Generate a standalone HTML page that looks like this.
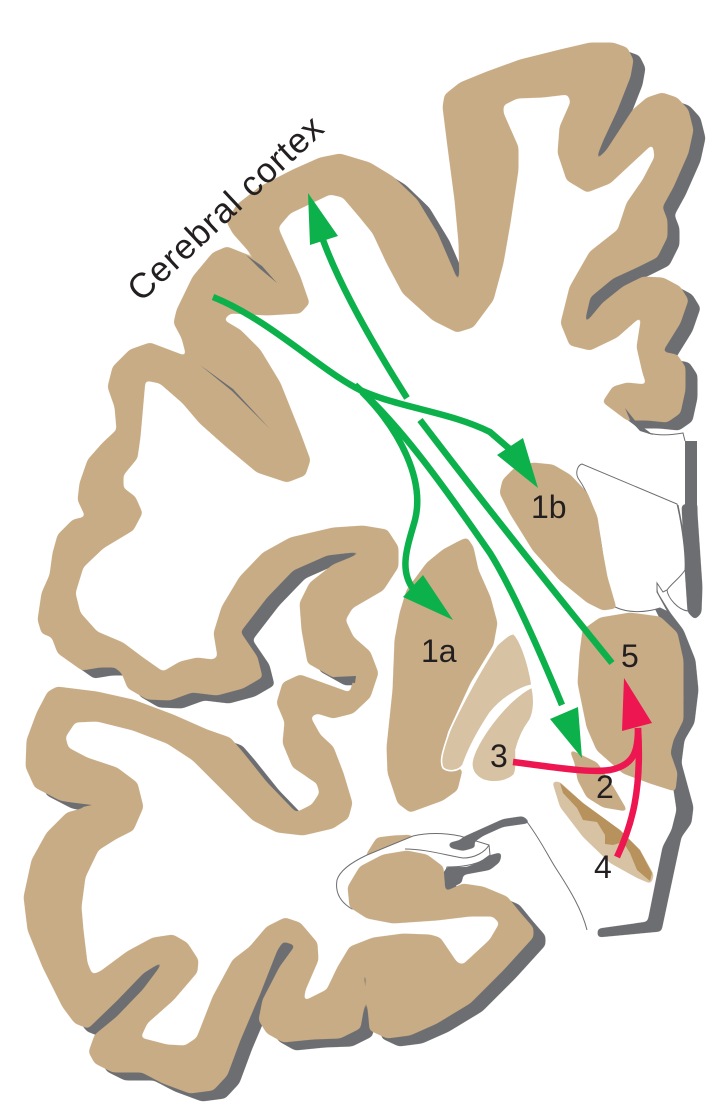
<!DOCTYPE html>
<html><head><meta charset="utf-8"><style>
html,body{margin:0;padding:0;background:#fff}
svg{display:block}
text{font-family:"Liberation Sans",sans-serif;fill:#231f20}
</style></head><body>
<svg width="723" height="1116" viewBox="0 0 723 1116" xmlns="http://www.w3.org/2000/svg">
<defs>
<filter id="sm" filterUnits="userSpaceOnUse" x="0" y="0" width="723" height="1116" color-interpolation-filters="sRGB">
<feGaussianBlur stdDeviation="2.2"/>
<feComponentTransfer><feFuncA type="linear" slope="9" intercept="-4"/></feComponentTransfer>
</filter>
<polygon id="rib" stroke-linejoin="round" points="603,402 627,420 647,420 667,422 680,413 685,390 685,367 677,355 662,352 680,323 688,300 680,287 663,278 643,277 623,287 603,303 583,327 590,297 613,278 637,267 657,257 667,237 667,220 662,207 673,187 688,153 693,130 688,110 677,98 662,93 647,98 633,110 620,130 607,150 593,165 603,140 617,110 630,77 633,60 627,48 613,43 590,43 560,50 520,60 487,72 460,83 445,95 443,107 448,147 455,200 459,243 460,288 453,270 437,233 417,200 393,177 370,163 340,154 320,158 293,170 260,187 237,205 227,222 233,233 257,260 277,282 247,255 227,247 213,253 193,277 177,310 174,323 182,338 187,357 233,390 269,428 233,390 187,357 150,343 130,350 113,367 108,387 115,407 117,430 103,443 88,460 80,483 78,500 86,517 73,520 58,535 53,553 50,575 42,593 38,620 42,633 52,637 58,653 82,670 100,667 115,667 122,673 128,688 147,699 170,700 192,692 217,695 243,688 262,677 257,657 240,632 267,597 293,570 327,555 370,550 333,565 310,583 300,603 302,630 308,663 333,677 355,676 350,693 300,675 283,683 277,703 285,722 283,743 293,767 317,783 320,793 312,805 298,812 295,812 267,783 243,753 230,738 207,730 173,715 133,700 97,692 57,687 48,692 37,713 27,740 26,767 35,787 60,800 92,806 67,813 47,833 32,860 24,897 28,930 43,967 63,1007 75,1023 88,1028 117,1000 143,973 167,958 143,990 117,1017 95,1035 89,1052 95,1063 113,1072 142,1072 163,1083 190,1093 213,1090 227,1075 240,1040 260,993 277,950 283,941 296,945 280,967 263,1000 259,1020 267,1033 283,1042 313,1039 340,1038 360,1028 365,1000 362,969 367,977 368,1007 370,1030 387,1038 410,1035 437,1023 470,1003 503,970 533,937 533,928 520,913 507,897 483,887 463,884 445,892 443,867 427,855 407,851 383,855 360,867 348,887 350,907 367,918 393,923 437,920 470,916 493,916 500,923 490,940 463,965 457,963 440,938 430,935 403,934 373,938 350,947 338,967 327,990 303,1002 305,990 318,960 317,943 300,923 285,918 267,927 250,947 233,960 213,997 197,1038 185,1046 167,1045 140,1038 147,1023 173,1000 197,972 198,960 187,943 173,935 153,938 127,952 100,972 92,975 87,963 83,930 81,907 85,877 98,850 117,838 133,830 143,807 137,783 117,768 87,758 68,748 65,737 75,722 97,721 133,730 167,743 193,760 220,787 253,820 277,832 303,835 333,828 348,818 352,803 343,773 333,747 320,735 310,717 317,713 333,718 353,713 370,697 378,673 370,652 353,637 345,620 352,608 383,590 398,567 398,547 387,530 363,526 333,528 290,538 263,553 240,577 222,607 214,633 218,657 213,660 197,658 180,662 163,672 143,658 123,643 97,632 80,613 75,593 83,567 103,548 133,530 142,513 135,497 123,488 123,475 137,458 140,437 145,380 160,383 183,403 200,423 227,447 257,472 287,482 305,475 310,460 300,433 280,383 260,350 240,330 223,320 230,313 267,315 300,313 309,303 300,277 280,233 278,227 290,213 330,194 343,197 360,217 373,233 387,263 403,293 433,320 457,332 473,327 493,300 503,263 510,223 518,170 518,147 503,113 503,105 517,98 543,97 568,94 571,102 560,127 558,153 567,180 587,192 610,183 653,143 655,157 643,180 627,203 618,230 590,252 570,287 561,323 570,345 590,350 617,337 642,315 637,347 643,373 647,385 627,383 613,387"/>
</defs>

<!-- shadow -->
<g filter="url(#sm)"><use href="#rib" fill="#6d6e71" stroke="#6d6e71" transform="translate(12,8)"/></g>
<!-- white matter cover -->
<g filter="url(#sm)"><polygon fill="#fff" points="367,918 393,923 437,920 470,916 493,916 500,923 490,940 463,965 457,963 440,938 430,935 403,934 373,938 350,947 338,967 327,990 303,1002 305,990 318,960 317,943 300,923 285,918 267,927 250,947 233,960 213,997 197,1038 185,1046 167,1045 140,1038 147,1023 173,1000 197,972 198,960 187,943 173,935 153,938 127,952 100,972 92,975 87,963 83,930 81,907 85,877 98,850 117,838 133,830 143,807 137,783 117,768 87,758 68,748 65,737 75,722 97,721 133,730 167,743 193,760 220,787 253,820 277,832 303,835 333,828 348,818 352,803 343,773 333,747 320,735 310,717 317,713 333,718 353,713 370,697 378,673 370,652 353,637 345,620 352,608 383,590 398,567 398,547 387,530 363,526 333,528 290,538 263,553 240,577 222,607 214,633 218,657 213,660 197,658 180,662 163,672 143,658 123,643 97,632 80,613 75,593 83,567 103,548 133,530 142,513 135,497 123,488 123,475 137,458 140,437 145,380 160,383 183,403 200,423 227,447 257,472 287,482 305,475 310,460 300,433 280,383 260,350 240,330 223,320 230,313 267,315 300,313 309,303 300,277 280,233 278,227 290,213 330,194 343,197 360,217 373,233 387,263 403,293 433,320 457,332 473,327 493,300 503,263 510,223 518,170 518,147 503,113 503,105 517,98 543,97 568,94 571,102 560,127 558,153 567,180 587,192 610,183 653,143 655,157 643,180 627,203 618,230 590,252 570,287 561,323 570,345 590,350 617,337 642,315 637,347 643,373 647,385 627,383 613,387 603,402 600,420 380,830 345,860 345,900"/></g>

<!-- hippocampal outline and gray (below cortex) -->
<g filter="url(#sm)"><polygon fill="#c8ac85" stroke="#c8ac85" stroke-linejoin="round" points="365,857 377,838 393,836 415,835 393,848"/></g>
<path fill="#fff" stroke="#6d6e71" stroke-width="1" d="M352,909 C340,902 335,892 337,880 C340,870 352,862 367,855 L413,836 C430,832 445,833 460,836 L489,845 L490,855 L483,860 C475,865 460,867 447,867 L440,892 L370,900 Z"/>
<path fill="none" stroke="#6d6e71" stroke-width="1" d="M405,849 C425,849 445,855 463,858 C475,858 485,852 489,845"/>
<g filter="url(#sm)">
<polygon fill="#6d6e71" points="463,837 483,828 503,819 523,816 531,823 503,827 483,836 473,843 477,847 463,851 450,848 448,843 460,840"/>
<polygon fill="#6d6e71" points="502,852 500,862 490,870 463,875 462,883 447,889 440,878 447,867 467,867 483,860 490,855"/>
</g>
<path fill="none" stroke="#6d6e71" stroke-width="1" d="M524,818 C540,838 550,860 557,870 C570,890 582,910 587,930"/>

<!-- cortex -->
<g filter="url(#sm)"><use href="#rib" fill="#c8ac85" stroke="#c8ac85"/></g>
<!-- thin sulcal slivers -->
<polygon fill="#6d6e71" points="200,365 233,389 270,429 232,391"/>
<polygon fill="#6d6e71" points="246,255 262,266 277,283 259,268"/>
<polygon fill="#6d6e71" points="60,801 92,805 78,808"/>
<polygon fill="#6d6e71" points="334,677 356,676 355,683 345,682"/>

<!-- brainstem / thalamus -->
<polygon fill="#6d6e71" points="625,408 637,423 648,431 653,435 640,431 630,420"/>
<path fill="none" stroke="#6d6e71" stroke-width="1" d="M648,433 C660,436 672,435 683,433 L685,441"/>
<rect x="685" y="441" width="12" height="66" fill="#6d6e71"/>
<g filter="url(#sm)">
<polygon fill="#6d6e71" stroke="#6d6e71" stroke-linejoin="round" points="682,505 697,503 697,513 702,587 701,613 695,619 688,612 685,567"/>
<polygon fill="#6d6e71" stroke="#6d6e71" points="641,573 650,587 653,577 657,583 657,592 670,613 683,630 695,660 698,690 694,723 684,740 681,763 693,807 691,823 681,837 661,931 598,937 598,929 648,922 663,847 672,830 677,810 674,790 667,750 671,737 681,727 684,697 676,653 660,618 647,592"/>
</g>
<path fill="#fff" stroke="#6d6e71" stroke-width="1" d="M582,464 C578,465 575,472 578,478 C590,495 598,520 602,550 C605,580 610,595 615,607 C630,614 648,612 660,608 L668,612 L657,592 L657,583 L663,592 L667,590 C672,583 680,578 685,570 C686,555 682,525 677,504 Z"/>
<path fill="none" stroke="#6d6e71" stroke-width="1" d="M678,505 C682,525 685,540 685,553 M667,590 C668,598 678,610 688,611"/>

<!-- nuclei -->
<g filter="url(#sm)" fill="#c8ac85" stroke="#c8ac85" stroke-linejoin="round">
<polygon points="500,493 503,480 515,468 533,463 553,465 570,475 587,493 597,517 602,550 607,577 616,608 603,610 587,602 560,580 533,550 510,513"/>
<polygon points="467,538 473,547 478,570 490,597 497,623 493,645 470,683 447,733 442,763 462,770 457,790 443,800 410,812 398,803 388,773 387,747 393,690 395,640 400,613 407,590 427,563 443,550 460,541"/>
<polygon points="580,653 583,630 600,618 630,613 660,617 677,633 683,660 683,690 683,720 673,740 670,753 677,773 675,791 650,783 623,773 597,750 587,727 578,683"/>
<polygon points="570,750 597,763 613,787 627,811 603,807 587,797 578,780 575,763"/>
</g>
<path fill="#d7c2a3" stroke="#fff" stroke-width="1.6" d="M497,645 C505,638 510,633 514,634 C520,640 528,660 532,685 C518,688 500,700 490,713 C480,728 470,745 463,765 C458,772 448,772 443,768 C440,762 441,755 450,730 C458,712 480,670 497,645Z"/>
<path fill="#d7c2a3" stroke="#fff" stroke-width="1.6" d="M532,687 C535,700 534,712 530,720 C524,728 519,738 516,750 C516,760 517,770 514,775 C508,781 495,784 483,780 C475,776 471,770 472,762 C474,745 505,700 532,687Z"/>
<g filter="url(#sm)">
<polygon fill="#d7c2a3" points="552,781 560,782 583,803 620,830 640,850 654,875 651,884 637,878 610,863 583,837 560,807"/>
</g>
<polygon fill="#b8925c" points="560,783 583,803 620,830 640,850 652,873 650,881 637,870 630,853 623,842 613,845 605,844 605,835 597,822 583,820 577,808 563,793"/>

<!-- green arrows -->
<g fill="none" stroke="#0db14b" stroke-width="6.5">
<path d="M213,297 C270,320 320,370 360,390 C400,408 450,412 490,432 L512,451"/>
<path d="M362,392 C400,430 425,480 415,520 C408,545 398,570 414,590"/>
<path d="M355,385 C400,425 443,485 490,553 C510,585 535,640 562,705"/>
<path d="M420,420 Q500,525 612,663"/>
<path d="M407,398 Q345,300 323,240"/>
</g>
<g fill="#0db14b">
<polygon points="538,488 497,455 523,438"/>
<polygon points="453,620 403,597 423,575"/>
<polygon points="582,758 550,719 578,707"/>
<polygon points="308,193 310,245 338,236"/>
</g>

<!-- red arrows -->
<g fill="none" stroke="#ed1650" stroke-width="6.5">
<path d="M513,762 C560,768 590,773 610,770 C635,765 638,750 638,728"/>
<path d="M617,857 C632,825 642,790 638,728"/>
</g>
<polygon fill="#ed1650" points="624,678 622,731 652,723"/>

<!-- labels -->
<g font-size="32">
<text x="531" y="518">1b</text>
<text x="421" y="662">1a</text>
<text x="621" y="667">5</text>
<text x="490" y="767">3</text>
<text x="596" y="798">2</text>
<text x="594" y="878">4</text>
</g>
<text font-size="35" letter-spacing="0.95" transform="translate(141,303) rotate(-43)">Cerebral cortex</text>
</svg>
</body></html>
